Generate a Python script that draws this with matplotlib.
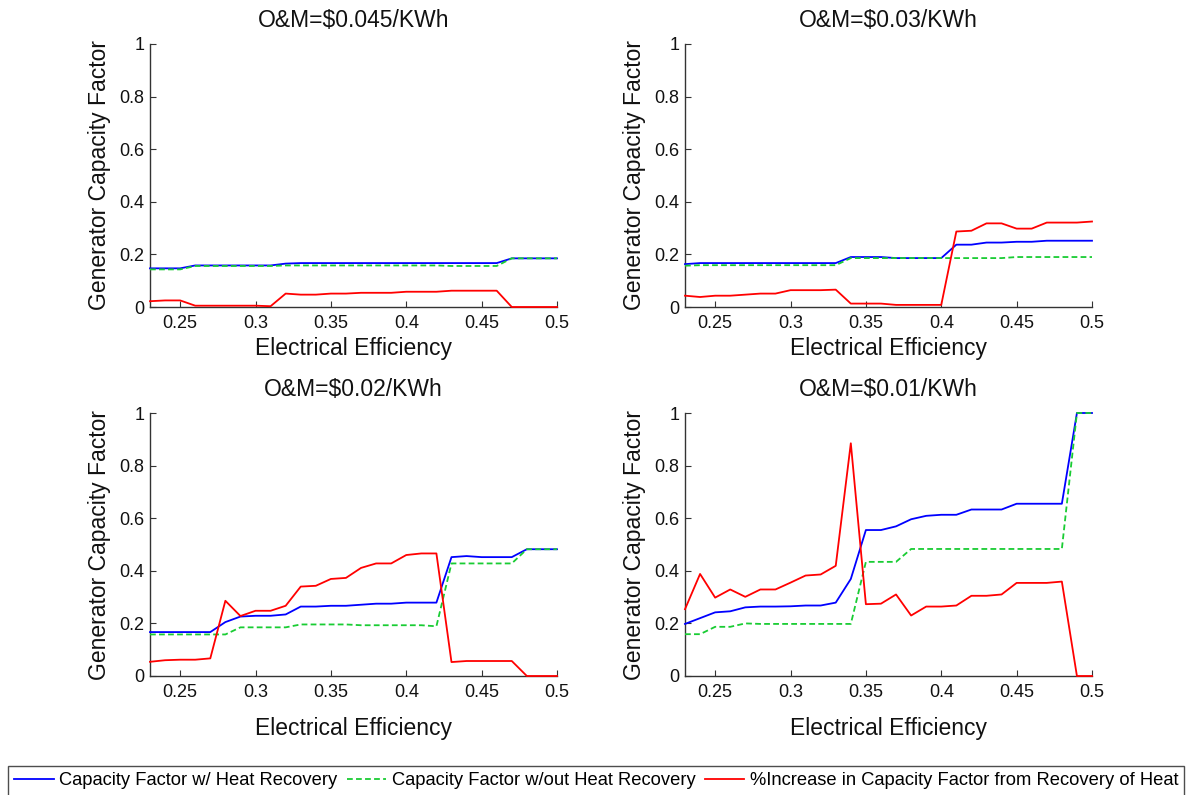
import matplotlib
matplotlib.use("Agg")
import matplotlib.pyplot as plt
import numpy as np

plt.rcParams['font.family'] = ['Liberation Sans', 'DejaVu Sans']

efficiency = [0.23, 0.24, 0.25, 0.26, 0.27, 0.28, 0.29, 0.30, 0.31, 0.32,
              0.33, 0.34, 0.35, 0.36, 0.37, 0.38, 0.39, 0.40, 0.41, 0.42,
              0.43, 0.44, 0.45, 0.46, 0.47, 0.48, 0.49, 0.50]

titles = ["O&M=$0.045/KWh", "O&M=$0.03/KWh", "O&M=$0.02/KWh", "O&M=$0.01/KWh"]

# Panel 1: O&M = $0.045/KWh
cf_hr_1 = [0.147, 0.147, 0.147, 0.158, 0.158, 0.158, 0.158, 0.158, 0.158, 0.165,
           0.167, 0.167, 0.167, 0.167, 0.167, 0.167, 0.167, 0.167, 0.167, 0.167,
           0.167, 0.167, 0.167, 0.167, 0.185, 0.185, 0.185, 0.185]
cf_nohr_1 = [0.143, 0.143, 0.143, 0.156, 0.156, 0.156, 0.156, 0.156, 0.156, 0.158,
             0.158, 0.158, 0.158, 0.158, 0.158, 0.158, 0.158, 0.158, 0.158, 0.158,
             0.156, 0.156, 0.156, 0.156, 0.185, 0.185, 0.185, 0.185]
inc_1 = [0.022, 0.025, 0.025, 0.005, 0.005, 0.005, 0.005, 0.005, 0.003, 0.051,
         0.047, 0.047, 0.051, 0.051, 0.054, 0.054, 0.054, 0.058, 0.058, 0.058,
         0.062, 0.062, 0.062, 0.062, 0.0, 0.0, 0.0, 0.0]

# Panel 2: O&M = $0.03/KWh
cf_hr_2 = [0.163, 0.167, 0.167, 0.167, 0.167, 0.167, 0.167, 0.167, 0.167, 0.167,
           0.167, 0.190, 0.190, 0.190, 0.186, 0.186, 0.186, 0.186, 0.237, 0.237,
           0.245, 0.245, 0.248, 0.248, 0.252, 0.252, 0.252, 0.252]
cf_nohr_2 = [0.157, 0.159, 0.159, 0.159, 0.159, 0.159, 0.159, 0.159, 0.159, 0.159,
             0.159, 0.186, 0.186, 0.186, 0.186, 0.186, 0.186, 0.186, 0.186, 0.186,
             0.186, 0.186, 0.190, 0.190, 0.190, 0.190, 0.190, 0.190]
inc_2 = [0.043, 0.038, 0.043, 0.043, 0.047, 0.051, 0.051, 0.064, 0.064, 0.064,
         0.066, 0.013, 0.013, 0.013, 0.008, 0.008, 0.008, 0.008, 0.287, 0.290,
         0.318, 0.318, 0.298, 0.298, 0.321, 0.321, 0.321, 0.325]

# Panel 3: O&M = $0.02/KWh
cf_hr_3 = [0.167, 0.167, 0.167, 0.167, 0.167, 0.205, 0.226, 0.229, 0.229, 0.234,
           0.264, 0.264, 0.267, 0.267, 0.271, 0.275, 0.275, 0.279, 0.279, 0.279,
           0.452, 0.456, 0.452, 0.452, 0.452, 0.482, 0.482, 0.482]
cf_nohr_3 = [0.158, 0.158, 0.158, 0.158, 0.158, 0.158, 0.185, 0.185, 0.185, 0.185,
             0.196, 0.196, 0.196, 0.196, 0.193, 0.193, 0.193, 0.193, 0.193, 0.189,
             0.428, 0.428, 0.428, 0.428, 0.428, 0.482, 0.482, 0.482]
inc_3 = [0.054, 0.060, 0.062, 0.062, 0.067, 0.286, 0.228, 0.248, 0.248, 0.267,
         0.340, 0.343, 0.369, 0.373, 0.411, 0.428, 0.428, 0.460, 0.466, 0.466,
         0.053, 0.057, 0.057, 0.057, 0.057, 0.0, 0.0, 0.0]

# Panel 4: O&M = $0.01/KWh
cf_hr_4 = [0.198, 0.220, 0.242, 0.246, 0.261, 0.264, 0.264, 0.265, 0.268, 0.268,
           0.279, 0.369, 0.555, 0.555, 0.569, 0.596, 0.609, 0.613, 0.613, 0.633,
           0.633, 0.633, 0.655, 0.655, 0.655, 0.655, 1.0, 1.0]
cf_nohr_4 = [0.159, 0.159, 0.187, 0.187, 0.200, 0.198, 0.198, 0.198, 0.198, 0.198,
             0.198, 0.198, 0.434, 0.434, 0.434, 0.483, 0.483, 0.483, 0.483, 0.483,
             0.483, 0.483, 0.483, 0.483, 0.483, 0.483, 1.0, 1.0]
inc_4 = [0.254, 0.388, 0.298, 0.329, 0.301, 0.329, 0.329, 0.355, 0.382, 0.386,
         0.419, 0.885, 0.273, 0.275, 0.310, 0.230, 0.264, 0.264, 0.268, 0.305,
         0.305, 0.310, 0.354, 0.354, 0.354, 0.359, 0.0, 0.0]

series_hr = [cf_hr_1, cf_hr_2, cf_hr_3, cf_hr_4]
series_nohr = [cf_nohr_1, cf_nohr_2, cf_nohr_3, cf_nohr_4]
series_inc = [inc_1, inc_2, inc_3, inc_4]

x_ticks = [0.25, 0.3, 0.35, 0.4, 0.45, 0.5]
x_tick_labels = ["0.25", "0.3", "0.35", "0.4", "0.45", "0.5"]
y_ticks = [0, 0.2, 0.4, 0.6, 0.8, 1]
y_tick_labels = ["0", "0.2", "0.4", "0.6", "0.8", "1"]

legend_labels = ["Capacity Factor w/ Heat Recovery",
                 "Capacity Factor w/out Heat Recovery",
                 "%Increase in Capacity Factor from Recovery of Heat"]

W, H = 1192, 795
fig = plt.figure(figsize=(W / 100, H / 100), dpi=100)

# axes boxes in pixels: (left, top, right, bottom)
boxes = [(150, 44, 557, 307), (685, 44, 1092, 307),
         (150, 413, 557, 676), (685, 413, 1092, 676)]
xlabel_pads = [3.0, 3.0, 11.5, 11.5]

spine_col = '#333333'
handles = None
for i, (l, t, r, b) in enumerate(boxes):
    ax = fig.add_axes([l / W, 1 - b / H, (r - l) / W, (b - t) / H])
    h1, = ax.plot(efficiency, series_hr[i], color='#0000ff', lw=1.3,
                  zorder=3, clip_on=False)
    h2, = ax.plot(efficiency, series_nohr[i], color='#19cc33', lw=1.3,
                  ls=(0, (3.2, 1.8)), zorder=3, clip_on=False)
    h3, = ax.plot(efficiency, series_inc[i], color='#ff0000', lw=1.3,
                  zorder=3, clip_on=False)
    handles = [h1, h2, h3]
    ax.set_xlim(0.23, 0.5)
    ax.set_ylim(0, 1)
    ax.set_xticks(x_ticks)
    ax.set_xticklabels(x_tick_labels)
    ax.set_yticks(y_ticks)
    ax.set_yticklabels(y_tick_labels)
    for s in ['top', 'right']:
        ax.spines[s].set_visible(False)
    for s in ['left', 'bottom']:
        ax.spines[s].set_color(spine_col)
        ax.spines[s].set_linewidth(1.0)
    ax.tick_params(direction='in', length=4, width=0.8, colors=spine_col,
                   labelcolor='#111111', labelsize=13)
    ax.tick_params(axis='x', pad=6.0)
    ax.tick_params(axis='y', pad=4)
    ax.set_title(titles[i], fontsize=16.5, pad=12, color='#111111')
    ax.set_xlabel("Electrical Efficiency", fontsize=16.5, labelpad=xlabel_pads[i],
                  color='#111111')
    ax.set_ylabel("Generator Capacity Factor", fontsize=16.5, labelpad=6,
                  color='#111111')

leg = fig.legend(handles, legend_labels, loc='upper left', ncol=3,
                 bbox_to_anchor=(8 / W, 1 - 766 / H),
                 fontsize=13.2, frameon=True, fancybox=False,
                 edgecolor='#222222', handlelength=2.15, handletextpad=0.3,
                 columnspacing=0.5, borderaxespad=0, borderpad=0.35)
leg.get_frame().set_linewidth(1.0)

fig.savefig("out.png", dpi=100)
